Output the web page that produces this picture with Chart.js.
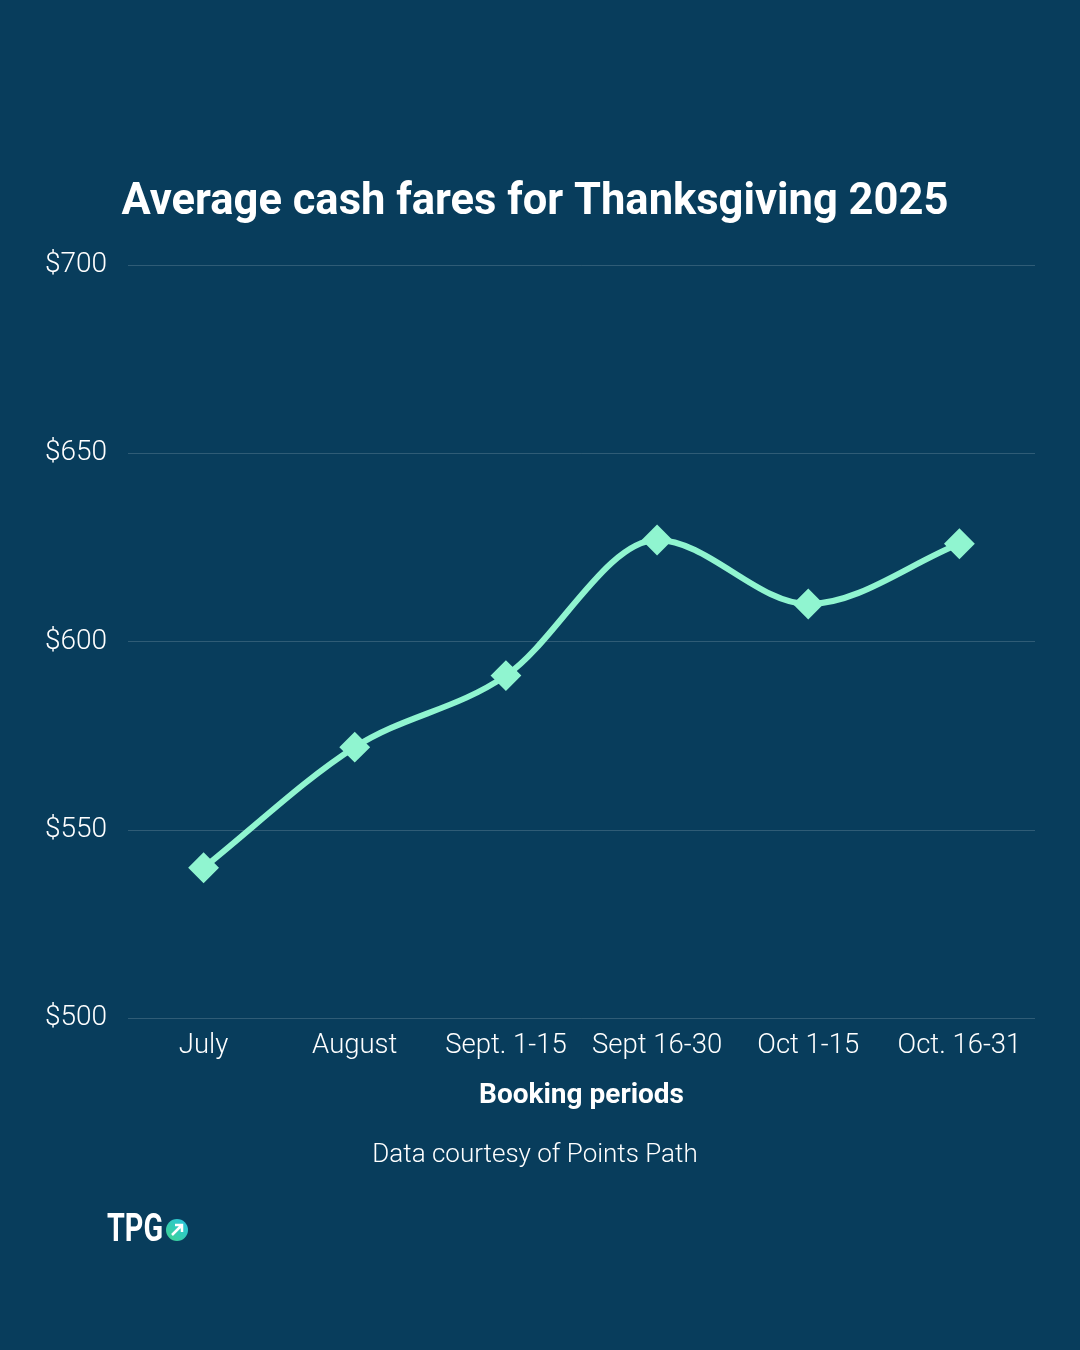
<!DOCTYPE html>
<html>
<head>
<meta charset="utf-8">
<script src="https://cdn.jsdelivr.net/npm/chart.js@4"></script>
<style>
  html, body { margin: 0; padding: 0; background: #083d5c; }
  #fares { display: block; }
</style>
</head>
<body>
<canvas id="fares" width="1080" height="1350"></canvas>
<script>
// booking periods and average fares (USD)
const periods = ['July', 'August', 'Sept. 1-15', 'Sept 16-30', 'Oct 1-15', 'Oct. 16-31'];
const avgFares = [540, 572, 591, 627, 610, 626];
const yTicks = [500, 550, 600, 650, 700];

const BG = '#083d5c';
const MINT = '#90f5d0';

// title, source note and logo drawn at fixed spots
const decor = {
  id: 'decor',
  beforeDraw(chart) {
    const ctx = chart.ctx;
    ctx.save();
    ctx.fillStyle = BG;
    ctx.fillRect(0, 0, chart.width, chart.height);
    ctx.restore();
  },
  afterDraw(chart) {
    const ctx = chart.ctx;
    ctx.save();
    ctx.fillStyle = '#ffffff';
    ctx.textAlign = 'center';
    ctx.textBaseline = 'middle';
    ctx.font = 'bold 43.5px Roboto';
    ctx.fillText('Average cash fares for Thanksgiving 2025', 535, 203);
    ctx.font = '300 26px Roboto';
    ctx.fillText('Data courtesy of Points Path', 535, 1155);

    // logo, squeezed to look condensed
    ctx.textAlign = 'left';
    ctx.textBaseline = 'alphabetic';
    ctx.font = 'bold 39px Roboto';
    const w = ctx.measureText('TPG').width;
    ctx.save();
    ctx.translate(107, 1241);
    ctx.scale(56 / w, 1);
    ctx.fillText('TPG', 0, 0);
    ctx.restore();
    const grad = ctx.createLinearGradient(166, 1240, 188, 1218);
    grad.addColorStop(0, '#3ed38e');
    grad.addColorStop(1, '#27c3e6');
    ctx.fillStyle = grad;
    ctx.beginPath();
    ctx.arc(177, 1230, 11, 0, Math.PI * 2);
    ctx.fill();
    ctx.strokeStyle = '#ffffff';
    ctx.lineWidth = 2.5;
    ctx.beginPath();
    ctx.moveTo(172, 1235);
    ctx.lineTo(182, 1225);
    ctx.moveTo(175, 1225);
    ctx.lineTo(182, 1225);
    ctx.lineTo(182, 1232);
    ctx.stroke();
    ctx.restore();
  }
};

new Chart(document.getElementById('fares'), {
  type: 'line',
  data: {
    labels: periods,
    datasets: [{
      data: avgFares,
      borderColor: MINT,
      backgroundColor: MINT,
      borderWidth: 6,
      cubicInterpolationMode: 'monotone',
      pointStyle: 'rectRot',
      pointRadius: 14,
      pointBorderWidth: 2,
      pointBorderColor: MINT,
      pointBackgroundColor: MINT
    }]
  },
  options: {
    responsive: false,
    animation: false,
    devicePixelRatio: 1,
    layout: { padding: { left: 30, right: 45, top: 265, bottom: 237 } },
    plugins: {
      legend: { display: false },
      tooltip: { enabled: false }
    },
    scales: {
      x: {
        offset: true,
        grid: { display: false },
        border: { display: false },
        ticks: {
          color: '#ffffff',
          padding: 3,
          maxRotation: 0,
          autoSkip: false,
          font: { family: 'Roboto', size: 27.5, weight: '300' }
        },
        title: {
          display: true,
          text: 'Booking periods',
          color: '#ffffff',
          padding: { top: 14, bottom: 0 },
          font: { family: 'Roboto', size: 28, weight: 'bold' }
        }
      },
      y: {
        min: 500,
        max: 700,
        afterBuildTicks(axis) {
          axis.ticks = yTicks.map(v => ({ value: v }));
        },
        afterFit(axis) { axis.width = 98; },
        grid: {
          color: 'rgba(255,255,255,0.16)',
          lineWidth: 1,
          drawTicks: false
        },
        border: { display: false },
        ticks: {
          color: '#ffffff',
          padding: 21,
          font: { family: 'Roboto', size: 28, weight: '300' },
          callback: v => '$' + v
        }
      }
    }
  },
  plugins: [decor]
});
</script>
</body>
</html>
